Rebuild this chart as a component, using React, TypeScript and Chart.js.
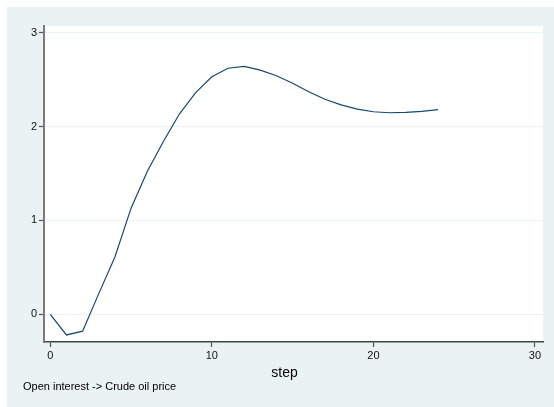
import React, { useEffect, useRef } from "react";
import { Chart, registerables } from "chart.js";

Chart.register(...registerables);

const steps = [0, 1, 2, 3, 4, 5, 6, 7, 8, 9, 10, 11, 12, 13, 14, 15, 16, 17, 18, 19, 20, 21, 22, 23, 24];
const values = [0, -0.22, -0.18, 0.22, 0.61, 1.13, 1.52, 1.84, 2.135, 2.36, 2.53, 2.62, 2.64, 2.6, 2.54, 2.46, 2.37, 2.29, 2.23, 2.185, 2.157, 2.146, 2.15, 2.16, 2.18];
const xTicks = [0, 10, 20, 30];
const yTicks = [0, 1, 2, 3];
const xTitle = "step";
const caption = "Open interest -> Crude oil price";

const FONT = "'Liberation Sans', Arial, Helvetica, sans-serif";

export default function App() {
  const ref = useRef<HTMLCanvasElement>(null);

  useEffect(() => {
    if (!ref.current) return;
    const bgPlugin = {
      id: "bgPlugin",
      beforeDraw(chart: any) {
        const { ctx, chartArea } = chart;
        ctx.save();
        ctx.fillStyle = "#ffffff";
        ctx.fillRect(chartArea.left, chartArea.top, chartArea.right - chartArea.left, chartArea.bottom - chartArea.top);
        ctx.restore();
      },
      afterDraw(chart: any) {
        const { ctx } = chart;
        ctx.save();
        ctx.fillStyle = "#000000";
        ctx.textBaseline = "middle";
        ctx.textAlign = "center";
        ctx.font = `14px ${FONT}`;
        ctx.fillText(xTitle, 277.5, 366);
        ctx.textAlign = "left";
        ctx.font = `11px ${FONT}`;
        ctx.fillText(caption, 16, 380);
        ctx.restore();
      },
    };

    const chart = new Chart(ref.current, {
      type: "line",
      data: {
        datasets: [
          {
            data: steps.map((s, i) => ({ x: s, y: values[i] })),
            borderColor: "#1a476f",
            borderWidth: 1.2,
            pointRadius: 0,
            tension: 0,
            fill: false,
          },
        ],
      },
      options: {
        responsive: false,
        animation: false,
        layout: { padding: { top: 19, right: 11, left: 0, bottom: 0 } },
        plugins: { legend: { display: false }, tooltip: { enabled: false } },
        scales: {
          x: {
            type: "linear",
            min: -0.39,
            max: 30.5,
            afterBuildTicks: (scale: any) => {
              scale.ticks = xTicks.map((v) => ({ value: v }));
            },
            afterFit: (scale: any) => {
              scale.height = 65;
            },
            grid: { drawOnChartArea: false, tickLength: 5, tickColor: "#555555", tickWidth: 1.2 },
            border: { color: "#444444", width: 1.5 },
            ticks: { font: { family: FONT, size: 11 }, color: "#111111", padding: 2, maxRotation: 0 },
          },
          y: {
            type: "linear",
            min: -0.295,
            max: 3.07,
            afterBuildTicks: (scale: any) => {
              scale.ticks = yTicks.map((v) => ({ value: v }));
            },
            afterFit: (scale: any) => {
              scale.width = 37;
            },
            grid: { color: "#eaf2f3", lineWidth: 1, tickLength: 5, tickColor: "#555555", tickWidth: 1.2 },
            border: { color: "#7a7a7a", width: 2 },
            ticks: { font: { family: FONT, size: 11 }, color: "#111111", padding: 2 },
          },
        },
      },
      plugins: [bgPlugin],
    } as any);
    return () => chart.destroy();
  }, []);

  return (
    <div style={{ position: "absolute", left: 7, top: 7, width: 547, height: 400, background: "#eaf2f3" }}>
      <canvas ref={ref} width={547} height={400} style={{ display: "block" }} />
    </div>
  );
}
